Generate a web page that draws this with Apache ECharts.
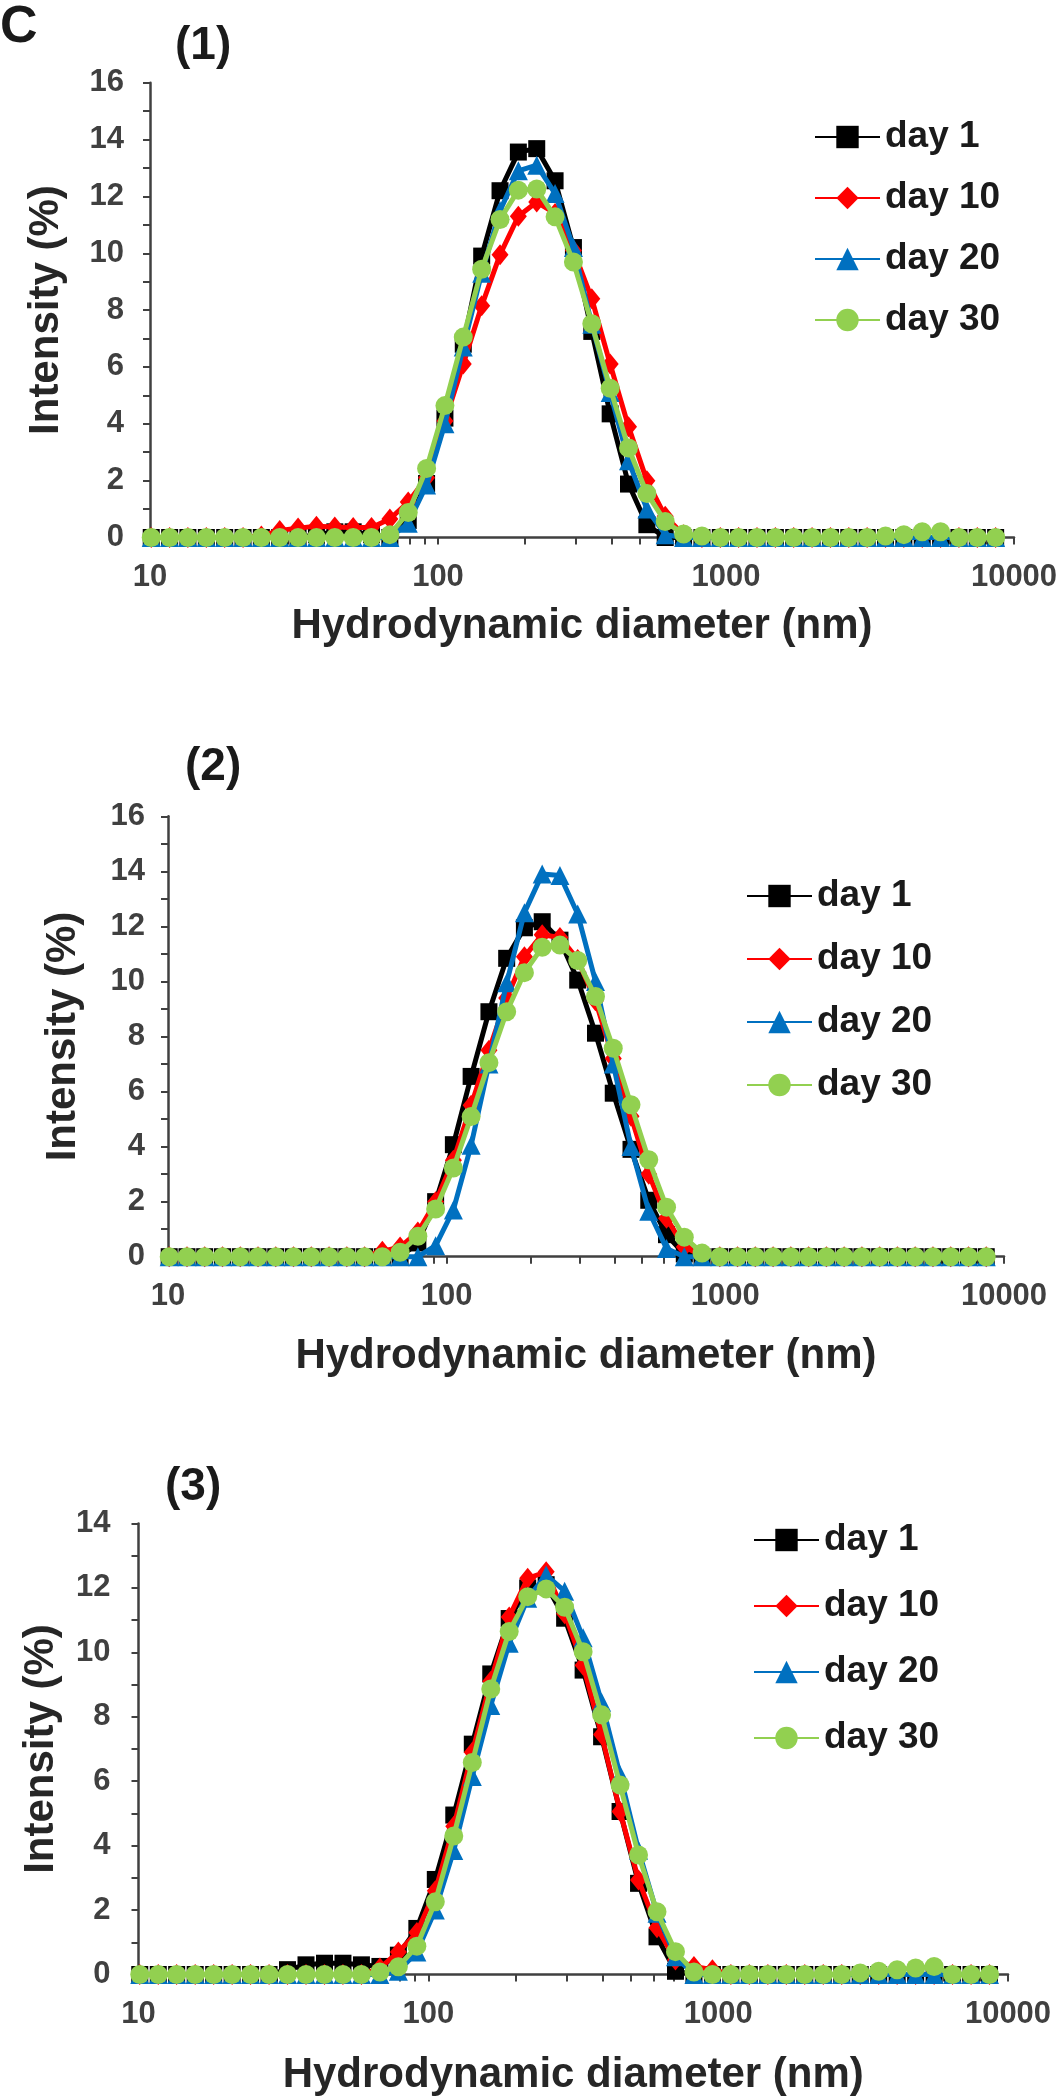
<!DOCTYPE html>
<html><head><meta charset="utf-8">
<script src="https://cdn.jsdelivr.net/npm/echarts@6/dist/echarts.min.js"></script>
<style>html,body{margin:0;padding:0;background:#fff}#chart{width:1064px;height:2100px}</style>
</head><body><div id="chart"></div>
<script>
// Hydrodynamic diameter size classes (nm)
const diameters = [10.1, 11.7, 13.54, 15.69, 18.17, 21.04, 24.36, 28.21, 32.67, 37.84, 43.82, 50.75, 58.77, 68.06, 78.82, 91.28, 105.7, 122.4, 141.8, 164.2, 190.1, 220.2, 255, 295.3, 342, 396.1, 458.7, 531.2, 615.1, 712.4, 825, 955.4, 1106, 1281, 1484, 1718, 1990, 2305, 2669, 3091, 3580, 4145, 4801, 5560, 6439, 7456, 8635];
const seriesNames = ['day 1', 'day 10', 'day 20', 'day 30'];

// Panel (1)
const p1Day1  = [0,0,0,0,0,0,0,0,0, 0.1,0.2,0.2,0.1,0, 0.6,1.9,4.2,6.8,9.9,12.2,13.56,13.68,12.55,10.2,7.25,4.35,1.88,0.45, 0,0,0,0,0,0,0,0,0,0,0,0,0,0,0,0,0,0,0];
const p1Day10 = [0,0,0,0,0,0, 0.05,0.25,0.33,0.4,0.37,0.35,0.35,0.65,1.25,2.1,4.1,6.1,8.15,9.95,11.3,11.8,11.4,10.1,8.4,6.1,3.9,2.0,0.75,0.1, 0,0,0,0,0,0,0,0,0,0,0,0,0,0,0,0,0];
const p1Day20 = [0,0,0,0,0,0,0,0,0,0,0,0,0,0, 0.5,1.85,4.0,6.7,9.3,11.5,12.9,13.1,12.1,10.2,7.5,5.1,2.7,1.0,0.1, 0,0,0,0,0,0,0,0,0,0,0,0,0,0,0,0,0,0];
const p1Day30 = [0,0,0,0,0,0,0,0,0,0,0,0,0, 0.1,0.88,2.43,4.64,7.05,9.44,11.19,12.22,12.26,11.28,9.69,7.52,5.25,3.15,1.55,0.56,0.12,0.05, 0,0,0,0,0,0,0,0,0, 0.05,0.1,0.2,0.2, 0,0,0];

// Panel (2)
const p2Day1  = [0,0,0,0,0,0,0,0,0,0,0,0,0,0, 0.5,2.0,4.07,6.55,8.9,10.84,11.95,12.17,11.5,10.05,8.12,5.94,3.9,2.05,0.8,0.1, 0,0,0,0,0,0,0,0,0,0,0,0,0,0,0,0,0];
const p2Day10 = [0,0,0,0,0,0,0,0,0,0,0,0, 0.2,0.35,0.9,2.0,3.5,5.5,7.5,9.4,10.9,11.7,11.6,10.8,9.3,7.2,5.1,3.0,1.4,0.35,0.05, 0,0,0,0,0,0,0,0,0,0,0,0,0,0,0,0];
const p2Day20 = [0,0,0,0,0,0,0,0,0,0,0,0,0,0,0, 0.4,1.7,4.05,7.0,9.95,12.5,13.9,13.85,12.45,10.0,7.0,4.0,1.65,0.3, 0,0,0,0,0,0,0,0,0,0,0,0,0,0,0,0,0,0];
const p2Day30 = [0,0,0,0,0,0,0,0,0,0,0,0,0, 0.16,0.74,1.73,3.22,5.09,7.05,8.9,10.32,11.24,11.32,10.76,9.45,7.57,5.52,3.52,1.8,0.71,0.13, 0,0,0,0,0,0,0,0,0,0,0,0,0,0,0,0];

// Panel (3)
const p3Day1  = [0,0,0,0,0,0,0,0, 0.15,0.3,0.35,0.35,0.3,0.25,0.6,1.43,2.95,4.95,7.15,9.33,11.05,12.0,12.1,11.06,9.45,7.38,5.06,2.83,1.17,0.1, 0,0,0,0,0,0,0,0,0,0,0,0,0,0,0,0,0];
const p3Day10 = [0,0,0,0,0,0,0,0,0,0,0,0,0, 0.2,0.7,1.3,2.6,4.6,6.9,9.1,11.1,12.3,12.5,11.2,9.6,7.45,5.06,2.93,1.45,0.45,0.25,0.15, 0,0,0,0,0,0,0,0,0,0,0,0,0,0,0];
const p3Day20 = [0,0,0,0,0,0,0,0,0,0,0,0,0,0, 0.1,0.7,2.0,3.85,6.15,8.35,10.28,11.68,12.4,11.9,10.45,8.45,6.2,3.86,1.9,0.55, 0,0,0,0,0,0,0,0,0,0,0,0,0,0,0,0,0];
const p3Day30 = [0,0,0,0,0,0,0,0,0,0,0,0,0, 0.08,0.24,0.88,2.26,4.3,6.58,8.86,10.65,11.73,11.97,11.4,10.02,8.06,5.88,3.71,1.95,0.71,0.08, 0,0,0,0,0,0,0,0, 0.05,0.1,0.15,0.2,0.25, 0,0,0];

// Axis ticks
const xLabelValues = [10, 100, 1000, 10000];
const xTickValues = [10,20,30,40,50,60,70,80,90,100,200,300,400,500,600,700,800,900,1000,2000,3000,4000,5000,6000,7000,8000,9000,10000];
const yTickValues16 = [0,1,2,3,4,5,6,7,8,9,10,11,12,13,14,15,16];
const yTickValues14 = [0,1,2,3,4,5,6,7,8,9,10,11,12,13,14];
const panelLabels = ['(1)', '(2)', '(3)'];
const xTitle = 'Hydrodynamic diameter (nm)';
const yTitle = 'Intensity (%)';

const panels = [
  { data: [p1Day1, p1Day10, p1Day20, p1Day30], yMax: 16, yTicks: yTickValues16 },
  { data: [p2Day1, p2Day10, p2Day20, p2Day30], yMax: 16, yTicks: yTickValues16 },
  { data: [p3Day1, p3Day10, p3Day20, p3Day30], yMax: 14, yTicks: yTickValues14 }
];

const FONT = 'Liberation Sans';
const AXIS_COLOR = '#404040';
const TICK_FS = 31;
const LEGEND_FS = 37;
const styles = [
  { color: '#000000', symbol: 'rect', size: 17 },
  { color: '#FF0000', symbol: 'diamond', size: [17, 21] },
  { color: '#0070C0', symbol: 'triangle', size: 19 },
  { color: '#92D050', symbol: 'circle', size: 19 }
];

const layout = [
  { grid: { left: 150, top: 82.7, width: 864, height: 454.8 }, xGap: 68, yGap: 83, yLabelMargin: 26, xLabelMargin: 24,
    legend: { left: 809, top: 113.5, itemGap: 24 }, label: { x: 175, y: 23 } },
  { grid: { left: 168, top: 816.3, width: 836, height: 440.4 }, xGap: 79, yGap: 84, yLabelMargin: 23, xLabelMargin: 24,
    legend: { left: 741, top: 872.5, itemGap: 26 }, label: { x: 185, y: 744 } },
  { grid: { left: 138.5, top: 1523.5, width: 869.5, height: 451 }, xGap: 80, yGap: 76, yLabelMargin: 28, xLabelMargin: 24,
    legend: { left: 748, top: 1516.5, itemGap: 29 }, label: { x: 165, y: 1464 } }
];

const grids = [], xAxes = [], yAxes = [], series = [], legends = [], graphics = [];
panels.forEach((p, gi) => {
  const L = layout[gi];
  grids.push(Object.assign({ containLabel: false, outerBoundsMode: 'none' }, L.grid));
  xAxes.push({
    type: 'log', logBase: 10, min: 10, max: 10000, gridIndex: gi,
    name: xTitle, nameLocation: 'middle', nameGap: L.xGap,
    nameTextStyle: { fontFamily: FONT, fontSize: 42, fontWeight: 'bold', color: '#262626' },
    axisLine: { show: true, onZero: false, lineStyle: { color: AXIS_COLOR, width: 2.5 } },
    axisTick: { show: true, inside: false, length: 7, customValues: xTickValues, lineStyle: { color: AXIS_COLOR, width: 2 } },
    axisLabel: { customValues: xLabelValues, margin: L.xLabelMargin, fontFamily: FONT, fontSize: TICK_FS, fontWeight: 'bold', color: AXIS_COLOR,
      formatter: v => String(Math.round(v)) },
    splitLine: { show: false }, minorTick: { show: false }, minorSplitLine: { show: false }
  });
  yAxes.push({
    type: 'value', min: 0, max: p.yMax, interval: 2, gridIndex: gi,
    name: yTitle, nameLocation: 'middle', nameGap: L.yGap,
    nameTextStyle: { fontFamily: FONT, fontSize: 42, fontWeight: 'bold', color: '#262626' },
    axisLine: { show: true, lineStyle: { color: AXIS_COLOR, width: 2.5 } },
    axisTick: { show: true, inside: false, length: 7, customValues: p.yTicks, lineStyle: { color: AXIS_COLOR, width: 2 } },
    axisLabel: { margin: L.yLabelMargin, fontFamily: FONT, fontSize: TICK_FS, fontWeight: 'bold', color: AXIS_COLOR },
    splitLine: { show: false }
  });
  p.data.forEach((vals, si) => {
    const st = styles[si];
    series.push({
      type: 'line', name: seriesNames[si], xAxisIndex: gi, yAxisIndex: gi,
      data: diameters.map((d, i) => [d, vals[i]]),
      symbol: st.symbol, symbolSize: st.size, showSymbol: true,
      itemStyle: { color: st.color, borderWidth: 0 },
      lineStyle: { color: st.color, width: 5 },
      clip: false, animation: false, z: 2 + si
    });
  });
  legends.push({
    orient: 'vertical', left: L.legend.left, top: L.legend.top, itemGap: L.legend.itemGap,
    itemWidth: 65, itemHeight: 28, data: seriesNames, selectedMode: false,
    textStyle: { fontFamily: FONT, fontSize: LEGEND_FS, fontWeight: 'bold', color: '#1a1a1a' }
  });
  graphics.push({ type: 'text', left: L.label.x, top: L.label.y,
    style: { text: panelLabels[gi], font: 'bold 46px Liberation Sans', fill: '#1a1a1a' } });
});
graphics.push({ type: 'text', left: 0, top: 2, style: { text: 'C', font: 'bold 52px Liberation Sans', fill: '#1a1a1a' } });

const chart = echarts.init(document.getElementById('chart'), null, { renderer: 'canvas', width: 1064, height: 2100 });
chart.setOption({
  backgroundColor: '#ffffff', animation: false,
  grid: grids, xAxis: xAxes, yAxis: yAxes, series: series, legend: legends, graphic: graphics
});
</script></body></html>
